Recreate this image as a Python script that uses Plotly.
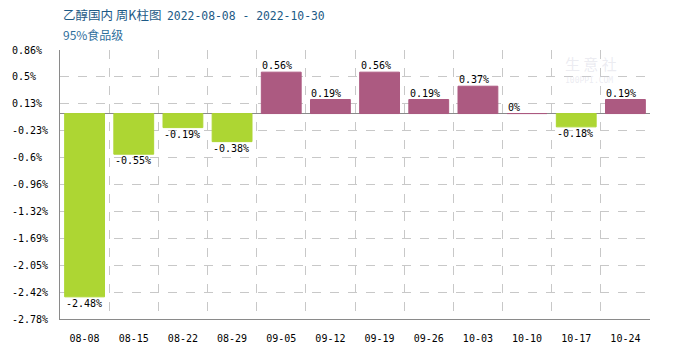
import plotly.graph_objects as go

categories = ["08-08", "08-15", "08-22", "08-29", "09-05", "09-12",
              "09-19", "09-26", "10-03", "10-10", "10-17", "10-24"]
values = [-2.48, -0.55, -0.19, -0.38, 0.56, 0.19, 0.56, 0.19, 0.37, 0.0, -0.18, 0.19]
value_labels = ["-2.48%", "-0.55%", "-0.19%", "-0.38%", "0.56%", "0.19%",
                "0.56%", "0.19%", "0.37%", "0%", "-0.18%", "0.19%"]
tick_vals = [0.86, 0.5, 0.13, -0.23, -0.6, -0.96, -1.32, -1.69, -2.05, -2.42, -2.78]
tick_text = ["0.86%", "0.5%", "0.13%", "-0.23%", "-0.6%", "-0.96%",
             "-1.32%", "-1.69%", "-2.05%", "-2.42%", "-2.78%"]

POS = "#ac5a81"
NEG = "#add633"
MONO = "DejaVu Sans Mono, Liberation Mono, monospace"
CJK = "Noto Sans CJK SC, sans-serif"

W, H = 700, 350
ML, MR, MT, MB = 60, 50, 50, 31

colors = [POS if v >= 0 else NEG for v in values]
fig = go.Figure()
fig.add_trace(go.Bar(
    x=categories, y=values, width=0.81,
    marker=dict(color=colors, line=dict(width=1, color=colors)),
    hoverinfo="skip",
))

annotations = []
for c, v, t in zip(categories, values, value_labels):
    annotations.append(dict(
        x=c, y=v, xref="x", yref="y", text=t, showarrow=False,
        xanchor="left", xshift=-21,
        yanchor="bottom" if v >= 0 else "top",
        yshift=-1 if v >= 0 else 1,
        font=dict(family=MONO, size=10, color="#000000"),
    ))

pw = W - ML - MR
ph = H - MT - MB
for v, t in zip(tick_vals, tick_text):
    annotations.append(dict(
        x=(10 - ML) / pw, y=v, xref="paper", yref="y", text=t, showarrow=False,
        xanchor="left", yanchor="middle",
        font=dict(family=MONO, size=10, color="#000000"),
    ))

title_html = ("乙醇国内 周K柱图  "
              "<span style='font-family:DejaVu Sans Mono; font-size:11.4px'>"
              "2022-08-08 - 2022-10-30</span>")
annotations.append(dict(
    x=(61 - ML) / pw, y=1 + (MT - 15) / ph, xref="paper", yref="paper",
    text=title_html, showarrow=False,
    xanchor="left", yanchor="middle",
    font=dict(family=CJK, size=12.5, color="#1d5a86"),
))
annotations.append(dict(
    x=(61 - ML) / pw, y=1 + (MT - 35) / ph, xref="paper", yref="paper",
    text="95%食品级", showarrow=False,
    xanchor="left", yanchor="middle",
    font=dict(family=CJK, size=12, color="#2f6f9c"),
))
# faint watermark
annotations.append(dict(
    x=(591 - ML) / pw, y=1 - (63 - MT) / ph, xref="paper", yref="paper",
    text="生 意 社", showarrow=False, xanchor="center", yanchor="middle",
    font=dict(family=CJK, size=15, color="rgba(205,205,220,0.4)"),
))
annotations.append(dict(
    x=(589 - ML) / pw, y=1 - (80 - MT) / ph, xref="paper", yref="paper",
    text="100PPI.COM", showarrow=False, xanchor="center", yanchor="middle",
    font=dict(family=MONO, size=8, color="rgba(205,205,220,0.4)"),
))

fig.update_layout(
    width=W, height=H,
    margin=dict(l=ML, r=MR, t=MT, b=MB, autoexpand=False),
    plot_bgcolor="#ffffff", paper_bgcolor="#ffffff",
    showlegend=False,
    annotations=annotations,
    xaxis=dict(
        type="category", range=[-0.5, 11.5], tickson="boundaries",
        showgrid=True, gridcolor="#c8c8c8", griddash="dash", gridwidth=1,
        showline=True, linecolor="#8a8a8a", linewidth=1,
        ticks="", tickfont=dict(family=MONO, size=10, color="#000000"),
        ticklabelstandoff=10, fixedrange=True, automargin=False,
    ),
    yaxis=dict(
        range=[-2.78, 0.86], tickvals=tick_vals, ticktext=tick_text,
        showticklabels=False, automargin=False,
        showgrid=True, gridcolor="#c8c8c8", griddash="dash", gridwidth=1,
        showline=True, linecolor="#8a8a8a", linewidth=1,
        zeroline=True, zerolinecolor="#8a8a8a", zerolinewidth=1,
        ticks="", fixedrange=True,
    ),
)

fig.write_html("out.html")
